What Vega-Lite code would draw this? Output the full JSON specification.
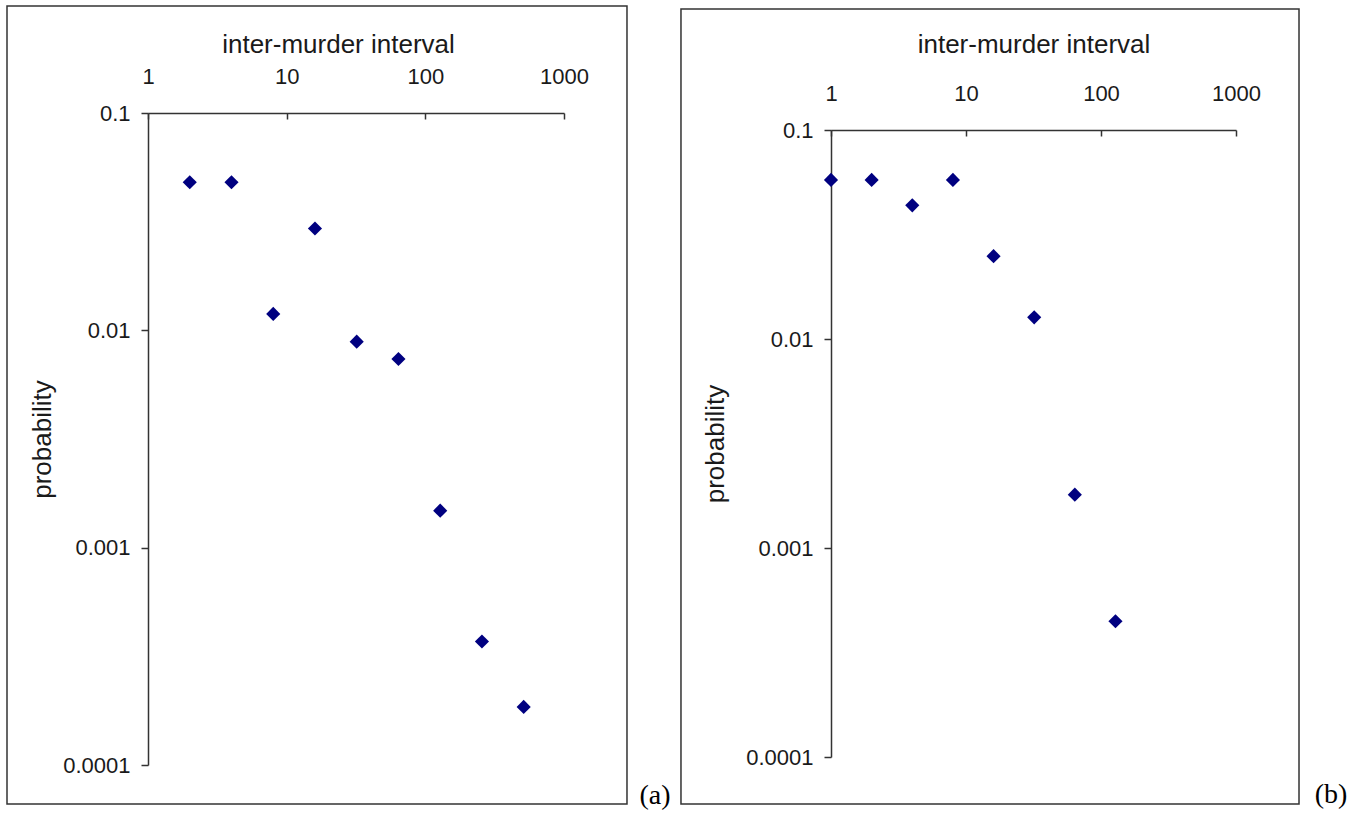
{
  "$schema": "https://vega.github.io/schema/vega-lite/v6.json",
  "padding": {"left": 6, "top": 5, "right": 0, "bottom": 0},
  "spacing": 9,
  "background": "white",
  "config": {
    "view": {"stroke": null},
    "axis": {
      "labelFont": "Liberation Sans", "labelFontSize": 22, "labelColor": "#1a1a1a",
      "titleFont": "Liberation Sans", "titleFontSize": 26, "titleFontWeight": "normal", "titleColor": "#1a1a1a",
      "domainColor": "#333333", "tickColor": "#333333", "domainWidth": 1.5, "tickWidth": 1.5,
      "grid": false, "labelFlush": false, "labelOverlap": false, "labelBound": false
    }
  },
  "hconcat": [
    {
      "width": 416, "height": 652,
      "layer": [
        {
          "data": {"values": [{"panel": "(a)"}]},
          "mark": {"type": "rect", "filled": false, "stroke": "#333333", "strokeWidth": 1.5, "clip": false},
          "encoding": {
            "x": {"datum": 0.0962, "type": "quantitative"},
            "x2": {"datum": 2846},
            "y": {"datum": 0.311, "type": "quantitative"},
            "y2": {"datum": 0.0000662}
          }
        },
        {
          "data": {"values": [{"panel": "(a)"}]},
          "mark": {"type": "text", "font": "Liberation Serif", "fontSize": 28, "color": "#000000", "align": "center", "baseline": "middle", "clip": false},
          "encoding": {
            "x": {"datum": 4530, "type": "quantitative"},
            "y": {"datum": 0.000072, "type": "quantitative"},
            "text": {"field": "panel"}
          }
        },
        {
          "data": {"values": [
            {"interval": 2, "probability": 0.048},
            {"interval": 4, "probability": 0.048},
            {"interval": 8, "probability": 0.0119},
            {"interval": 16, "probability": 0.0294},
            {"interval": 32, "probability": 0.00887},
            {"interval": 64, "probability": 0.00738},
            {"interval": 128, "probability": 0.00148},
            {"interval": 256, "probability": 0.00037},
            {"interval": 512, "probability": 0.000185}
          ]},
          "mark": {"type": "point", "shape": "diamond", "filled": true, "color": "#000080", "size": 200, "opacity": 1},
          "encoding": {
            "x": {
              "field": "interval", "type": "quantitative",
              "scale": {"type": "log", "domain": [1, 1000], "nice": false, "zero": false},
              "axis": {"orient": "top", "title": "inter-murder interval", "values": [1, 10, 100, 1000], "format": "~f",
                       "tickSize": -6, "labelPadding": 36, "labelBaseline": "alphabetic",
                       "titleBaseline": "alphabetic", "titlePadding": 13, "titleX": 190}
            },
            "y": {
              "field": "probability", "type": "quantitative",
              "scale": {"type": "log", "domain": [0.0001, 0.1], "nice": false, "zero": false},
              "axis": {"title": "probability", "values": [0.0001, 0.001, 0.01, 0.1], "format": "~f",
                       "tickSize": 7, "labelPadding": 11, "titleBaseline": "alphabetic", "titlePadding": 12}
            }
          }
        }
      ]
    },
    {
      "width": 405, "height": 644,
      "layer": [
        {
          "data": {"values": [{"panel": "(b)"}]},
          "mark": {"type": "rect", "filled": false, "stroke": "#333333", "strokeWidth": 1.5, "clip": false},
          "encoding": {
            "x": {"datum": 0.0774, "type": "quantitative"},
            "x2": {"datum": 2929},
            "y": {"datum": 0.379, "type": "quantitative"},
            "y2": {"datum": 0.0000596}
          }
        },
        {
          "data": {"values": [{"panel": "(b)"}]},
          "mark": {"type": "text", "font": "Liberation Serif", "fontSize": 28, "color": "#000000", "align": "center", "baseline": "middle", "clip": false},
          "encoding": {
            "x": {"datum": 5055, "type": "quantitative"},
            "y": {"datum": 0.0000658, "type": "quantitative"},
            "text": {"field": "panel"}
          }
        },
        {
          "data": {"values": [
            {"interval": 1, "probability": 0.0577},
            {"interval": 2, "probability": 0.0577},
            {"interval": 4, "probability": 0.0436},
            {"interval": 8, "probability": 0.0577},
            {"interval": 16, "probability": 0.0249},
            {"interval": 32, "probability": 0.0127},
            {"interval": 64, "probability": 0.0018},
            {"interval": 128, "probability": 0.000446}
          ]},
          "mark": {"type": "point", "shape": "diamond", "filled": true, "color": "#000080", "size": 200, "opacity": 1},
          "encoding": {
            "x": {
              "field": "interval", "type": "quantitative",
              "scale": {"type": "log", "domain": [1, 1000], "nice": false, "zero": false},
              "axis": {"orient": "top", "offset": -17, "title": "inter-murder interval", "values": [1, 10, 100, 1000], "format": "~f",
                       "tickSize": -6, "labelPadding": 36, "labelBaseline": "alphabetic",
                       "titleBaseline": "alphabetic", "titlePadding": 30}
            },
            "y": {
              "field": "probability", "type": "quantitative",
              "scale": {"type": "log", "domain": [0.0001, 0.1], "range": [644, 17], "nice": false, "zero": false},
              "axis": {"title": "probability", "values": [0.0001, 0.001, 0.01, 0.1], "format": "~f",
                       "tickSize": 7, "labelPadding": 11, "titleBaseline": "alphabetic", "titlePadding": 22}
            }
          }
        }
      ]
    }
  ]
}
